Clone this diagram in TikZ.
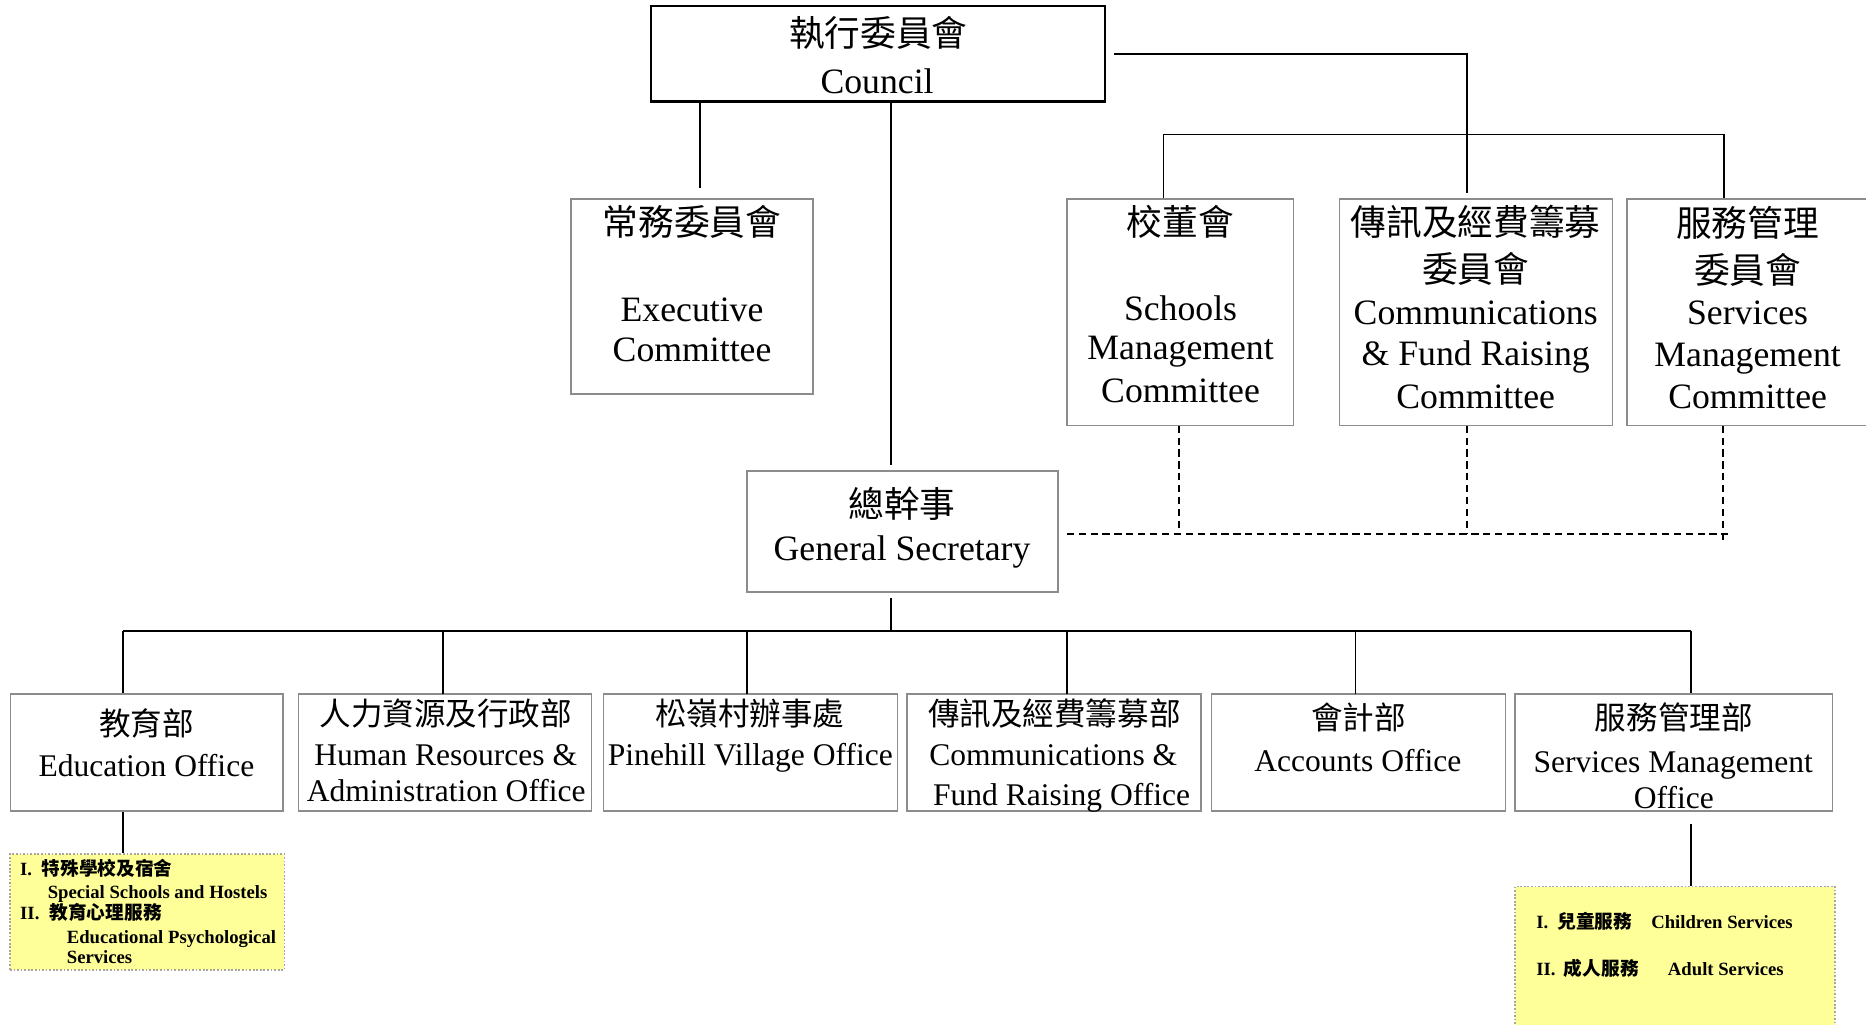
\documentclass[tikz,border=0pt]{standalone}
\usepackage{fontspec}
\setmainfont{Liberation Serif}
\newfontfamily\cjk{Noto Sans CJK TC}
\definecolor{boxgray}{gray}{0.55}
\definecolor{dotgray}{gray}{0.65}
\definecolor{ylw}{HTML}{FFFF99}
\begin{document}
\begin{tikzpicture}[x=1pt,y=-1pt,
  gbox/.style={draw=boxgray,line width=1.3pt,inner sep=0pt,rectangle},
  cbox/.style={draw=black,line width=2.2pt,inner sep=0pt,rectangle},
  ybox/.style={fill=ylw,draw=dotgray,line width=1.5pt,dash pattern=on 1.5pt off 1.5pt,inner sep=0pt,rectangle},
  conn/.style={draw=black,line width=1.6pt},
  dconn/.style={draw=black,line width=1.6pt,dash pattern=on 6pt off 4pt},
  big/.style={anchor=base,inner sep=0pt,font=\fontsize{30}{36}\selectfont},
  mid/.style={anchor=base,inner sep=0pt,font=\fontsize{26.5}{31}\selectfont},
  sm/.style={anchor=base west,inner sep=0pt,font=\fontsize{15.7}{19}\selectfont\bfseries}]
\useasboundingbox (0,0) rectangle (1568,861.3);

% yellow boxes
\node[ybox,minimum width=230.6pt,minimum height=97.3pt] (y1) at (123.7,766.35) {};
\node[ybox,minimum width=269pt,minimum height=125pt] (y2) at (1407.5,807.5) {};

% boxes
\node[cbox,minimum width=381.6pt,minimum height=80.4pt] (council) at (737.8,45.2) {};
\node[gbox,minimum width=203pt,minimum height=164pt] (exec) at (581.5,249) {};
\node[gbox,minimum width=190.4pt,minimum height=190.5pt] (schools) at (991.8,262.4) {};
\node[gbox,minimum width=229.3pt,minimum height=190.5pt] (commc) at (1240.4,262.4) {};
\node[gbox,minimum width=208pt,minimum height=190.5pt] (servc) at (1471,262.4) {};
\node[gbox,minimum width=261.3pt,minimum height=101.7pt] (gs) at (758.2,446.4) {};
\node[gbox,minimum width=229pt,minimum height=98.6pt] (b1) at (123.5,632.3) {};
\node[gbox,minimum width=246pt,minimum height=98.6pt] (b2) at (374,632.3) {};
\node[gbox,minimum width=247pt,minimum height=98.6pt] (b3) at (630.5,632.3) {};
\node[gbox,minimum width=247pt,minimum height=98.6pt] (b4) at (885.5,632.3) {};
\node[gbox,minimum width=247pt,minimum height=98.6pt] (b5) at (1141.5,632.3) {};
\node[gbox,minimum width=267pt,minimum height=98.6pt] (b6) at (1406.5,632.3) {};

% texts
\node[big] (tc1) at (738,39) {\cjk 執行委員會};
\node[big] (tc2) at (737,78.4) {Council};
\node[big] (te1) at (581.5,198) {\cjk 常務委員會};
\node[big] (te2) at (581.5,270) {Executive};
\node[big] (te3) at (581.5,304) {Committee};
\node[big] (ts1) at (992,197.5) {\cjk 校董會};
\node[big] (ts2) at (992,269) {Schools};
\node[big] (ts3) at (992,302.5) {Management};
\node[big] (ts4) at (992,338) {Committee};
\node[big] (tm1) at (1240,197.5) {\cjk 傳訊及經費籌募};
\node[big] (tm2) at (1240,237) {\cjk 委員會};
\node[big] (tm3) at (1240,273) {Communications};
\node[big] (tm4) at (1240,307) {\& Fund Raising};
\node[big] (tm5) at (1240,343) {Committee};
\node[big] (tv1) at (1468.5,198.5) {\cjk 服務管理};
\node[big] (tv2) at (1468.5,238) {\cjk 委員會};
\node[big] (tv3) at (1468.5,273) {Services};
\node[big] (tv4) at (1468.5,308) {Management};
\node[big] (tv5) at (1468.5,343) {Committee};
\node[big] (tg1) at (758,435) {\cjk 總幹事};
\node[big] (tg2) at (758,470.6) {General Secretary};

\node[mid] (t11) at (123,618) {\cjk 教育部};
\node[mid] (t12) at (123,652.6) {Education Office};
\node[mid] (t21) at (374.5,610) {\cjk 人力資源及行政部};
\node[mid] (t22) at (374.5,643) {Human Resources \&};
\node[mid] (t23) at (375,673.7) {Administration Office};
\node[mid] (t31) at (630,610) {\cjk 松嶺村辦事處};
\node[mid] (t32) at (630.5,643) {Pinehill Village Office};
\node[mid] (t41) at (886,610) {\cjk 傳訊及經費籌募部};
\node[mid] (t42) at (885,643) {Communications \&};
\node[mid] (t43) at (892,676.5) {Fund Raising Office};
\node[mid] (t51) at (1141.5,613) {\cjk 會計部};
\node[mid] (t52) at (1141,648.5) {Accounts Office};
\node[mid] (t61) at (1406.5,613) {\cjk 服務管理部};
\node[mid] (t62) at (1406,649) {Services Management};
\node[mid] (t63) at (1406.5,679) {Office};

\node[sm] (ya1) at (16.8,735.3) {I.};
\node[sm] (ya2) at (35,735.3) {\cjk 特殊學校及宿舍};
\node[sm] (ya3) at (40,754.6) {Special Schools and Hostels};
\node[sm] (ya4) at (16.8,773) {II.};
\node[sm] (ya5) at (41.5,773) {\cjk 教育心理服務};
\node[sm] (ya6) at (56,792.6) {Educational Psychological};
\node[sm] (ya7) at (56,810) {Services};
\node[sm] (yb1) at (1290.7,780) {I.};
\node[sm] (yb2) at (1308.6,780) {\cjk 兒童服務};
\node[sm] (yb3) at (1387.4,780) {Children Services};
\node[sm] (yb4) at (1290.7,820) {II.};
\node[sm] (yb5) at (1314,820) {\cjk 成人服務};
\node[sm] (yb6) at (1401.4,820) {Adult Services};

% connector coordinates
\coordinate (ecEnd) at (588,158);
\coordinate (gsTop) at (748.9,390.8);
\coordinate (rStart) at (936,45.5);
\coordinate (rCorner) at (1233,45.5);
\coordinate (rEnd) at (1233,162);
\coordinate (jL) at (977.7,113);
\coordinate (jR) at (1449,113);
\coordinate (gsBot) at (748.7,502.6);
\coordinate (hb) at (748.7,530);
\coordinate (hL) at (103.5,530);
\coordinate (hR) at (1421,530);
\coordinate (dh) at (896.4,448.8);
\coordinate (dhR) at (1455,448.8);
\coordinate (s6) at (1420.7,692.5);

% solid connectors
\draw[conn] (council.south -| ecEnd) -- (ecEnd);
\draw[conn] (council.south -| gsTop) -- (gsTop);
\draw[conn] (rStart) -- (rCorner) -- (rEnd);
\draw[conn] (jL) -- (jR);
\draw[conn] (jL) -- (jL |- schools.north);
\draw[conn] (jR) -- (jR |- servc.north);
\draw[conn] (gsBot) -- (hb);
\draw[conn] (hL) -- (hR);
\draw[conn] (hL) -- (hL |- b1.north);
\draw[conn] (372.5,530) -- (372.5,583);
\draw[conn] (628,530) -- (628,583);
\draw[conn] (896.6,530) -- (896.6,583);
\draw[conn] (1139,530) -- (1139,583);
\draw[conn] (hR) -- (hR |- b6.north);
\draw[conn] (b1.south -| 103.6,0) -- (y1.north -| 103.6,0);
\draw[conn] (s6) -- (y2.north -| s6);

% dashed connectors
\draw[dconn] (990.8,357.7) -- (990.8,448.8);
\draw[dconn] (1232.6,357.7) -- (1232.6,448.8);
\draw[dconn] (1448,357.7) -- (1448,453.8);
\draw[dconn] (dh) -- (dhR);
\end{tikzpicture}
\end{document}
